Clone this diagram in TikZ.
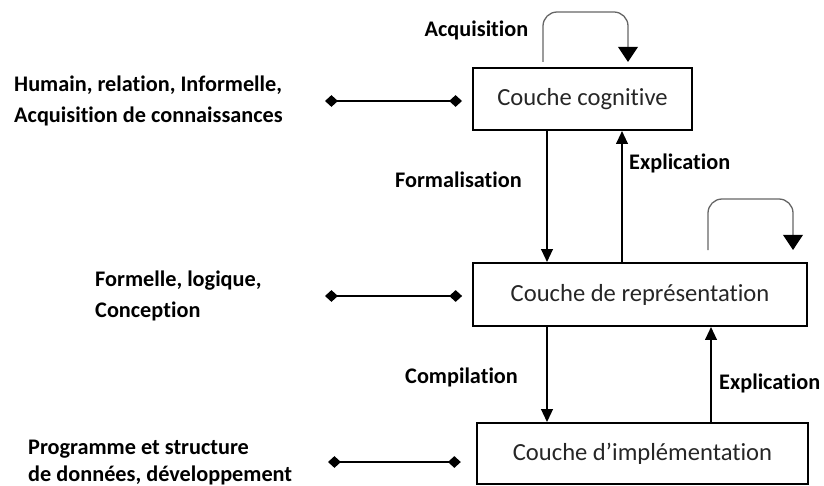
\documentclass[tikz,border=0pt]{standalone}
\usepackage{fontspec}
\setmainfont{Carlito}[Ligatures=CommonOff]
\usetikzlibrary{arrows.meta}

\begin{document}
\begin{tikzpicture}[x=0.03cm, y=-0.03cm,
    couche/.style={draw, line width=1.7pt, inner sep=0pt, text=black!85, font=\fontsize{21}{25}\selectfont},
    lbl/.style={inner sep=0pt, font=\bfseries\fontsize{19}{26.5}\selectfont},
    lien/.style={line width=1.5pt, {Diamond[length=11pt,width=10pt]}-{Diamond[length=11pt,width=10pt]}},
    fleche/.style={line width=1.4pt, -{Triangle[length=11pt,width=10pt]}},
    boucle/.style={line width=1.1pt, black!60, rounded corners=12pt, -{Triangle[length=13pt,width=17pt,color=black]}}]
    \useasboundingbox (0,0) rectangle (824,486);

    % the three layers
    \node[couche, minimum width=187pt, minimum height=53pt] (cog) at (582.5,99) {Couche cognitive};
    \node[couche, minimum width=285pt, minimum height=53.8pt] (rep) at (640,294.5) {Couche de représentation};
    \node[couche, minimum width=282.5pt, minimum height=52pt] (imp) at (642.5,453.5) {Couche d’implémentation};

    % what each layer stands for
    \node[lbl, align=left, anchor=west] (hum) at (14,101) {Humain, relation, Informelle,\\Acquisition de connaissances};
    \node[lbl, align=left, anchor=west] (frm) at (95,296) {Formelle, logique,\\Conception};
    \node[lbl, align=left, anchor=west, font=\bfseries\fontsize{19}{23}\selectfont] (prg) at (28,463) {Programme et structure\\de données, développement};

    \coordinate (g1) at (325,101);
    \coordinate (g2) at (325,296);
    \coordinate (g3) at (328,462);
    \draw[lien, shorten >=8.5pt] (g1) -- (g1 -| cog.west);
    \draw[lien, shorten >=8.5pt] (g2) -- (g2 -| rep.west);
    \draw[lien, shorten >=13pt] (g3) -- (g3 -| imp.west);

    % passages between layers
    \coordinate (xa) at (547,0);
    \coordinate (xb) at (622,0);
    \coordinate (xc) at (711,0);
    \draw[fleche] (cog.south -| xa) -- (rep.north -| xa);
    \draw[fleche] (rep.north -| xb) -- (cog.south -| xb);
    \draw[fleche] (rep.south -| xa) -- (imp.north -| xa);
    \draw[fleche] (imp.north -| xc) -- (rep.south -| xc);

    \node[lbl, anchor=base east] (form) at (522,188) {Formalisation};
    \node[lbl, anchor=base west] (expl1) at (629,170) {Explication};
    \node[lbl, anchor=base west] (comp) at (405,383) {Compilation};
    \node[lbl, anchor=base west] (expl2) at (719,389) {Explication};

    % loops on top of the boxes
    \coordinate (b1) at (543,62);
    \coordinate (b2) at (628,62);
    \draw[boucle] (b1) -- ++(0,-50) -| (b2);
    \node[lbl, anchor=base] (acq) at (476.5,37) {Acquisition};

    \coordinate (b3) at (708,250);
    \coordinate (b4) at (793,250);
    \draw[boucle] (b3) -- ++(0,-51) -| (b4);
\end{tikzpicture}
\end{document}
